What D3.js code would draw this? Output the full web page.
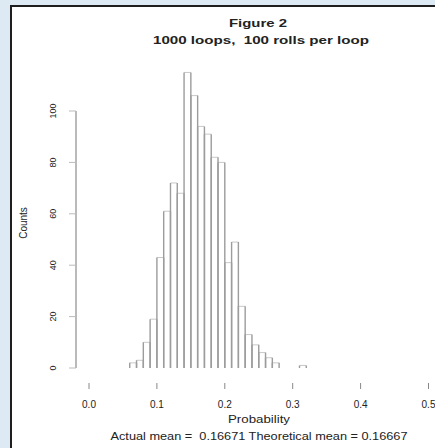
<!DOCTYPE html>
<html lang="en">
<head>
  <meta charset="UTF-8">
  <script src="https://d3js.org/d3.v7.min.js"></script>
  <title>Figure 2</title>
  <style>
    body { margin: 0; background: #dde9f3; }
    svg { display: block; font-family: "Liberation Sans", Arial, sans-serif; }
    text { white-space: pre; }
  </style>
</head>
<body>
  <script>
    // histogram bins: lower edge of each 0.01 bin and its count
    const binStart = [0.06, 0.07, 0.08, 0.09, 0.10, 0.11, 0.12, 0.13, 0.14, 0.15, 0.16, 0.17, 0.18,
                      0.19, 0.20, 0.21, 0.22, 0.23, 0.24, 0.25, 0.26, 0.27, 0.28, 0.29, 0.30, 0.31]
    const counts   = [2, 3, 10, 19, 43, 61, 72, 68, 115, 106, 94, 91, 82,
                      80, 41, 49, 24, 13, 9, 6, 4, 2, 0, 0, 0, 1]
    const binWidth = 0.01
    const xTicks = [0.0, 0.1, 0.2, 0.3, 0.4, 0.5]
    const yTicks = [0, 20, 40, 60, 80, 100]

    const titleLines = ["Figure 2", "1000 loops,  100 rolls per loop"]
    const xLabel = "Probability"
    const yLabel = "Counts"
    const subLabel = "Actual mean =  0.16671 Theoretical mean = 0.16667"

    const width = 435, height = 448

    const svg = d3.select("body")
        .append("svg")
        .attr("width", width)
        .attr("height", height)

    // white panel with dark frame (right/bottom run off the picture)
    svg.append("rect")
        .attr("x", 11).attr("y", 6)
        .attr("width", width).attr("height", height)
        .attr("fill", "#fff")
        .attr("stroke", "#1e1e1e")
        .attr("stroke-width", 2)

    const xScale = d3.scaleLinear()
        .domain([0, 0.5])
        .range([89, 428.5])

    const yScale = d3.scaleLinear()
        .domain([0, 100])
        .range([368, 111])

    const bins = binStart.map((b, i) => ({ x0: b, x1: b + binWidth, n: counts[i] }))
        .filter(d => d.n > 0)

    const bars = svg.append("g")

    // light tops
    bars.selectAll("line.top")
        .data(bins)
        .join("line")
        .attr("class", "top")
        .attr("x1", d => xScale(d.x0)).attr("x2", d => xScale(d.x1))
        .attr("y1", d => yScale(d.n)).attr("y2", d => yScale(d.n))
        .attr("stroke", "#c8c8c8")

    // bar sides
    bars.selectAll("path.side")
        .data(bins)
        .join("path")
        .attr("class", "side")
        .attr("d", d => `M${xScale(d.x0)},${yScale(0)}V${yScale(d.n)}M${xScale(d.x1)},${yScale(0)}V${yScale(d.n)}`)
        .attr("fill", "none")
        .attr("stroke", "#9c9c9c")
        .attr("stroke-width", 1.4)

    // y axis (R style, offset to the left)
    const yAxisX = 76
    const yAxis = svg.append("g")
    yAxis.append("line")
        .attr("x1", yAxisX).attr("x2", yAxisX)
        .attr("y1", yScale(0)).attr("y2", yScale(100))
        .attr("stroke", "#9c9c9c").attr("stroke-width", 1.4)
    yAxis.selectAll("line.tick")
        .data(yTicks)
        .join("line")
        .attr("class", "tick")
        .attr("x1", yAxisX - 7).attr("x2", yAxisX)
        .attr("y1", d => yScale(d)).attr("y2", d => yScale(d))
        .attr("stroke", "#bbb")
    yAxis.selectAll("text")
        .data(yTicks)
        .join("text")
        .attr("transform", d => `translate(56,${yScale(d)}) rotate(-90)`)
        .attr("text-anchor", "middle")
        .attr("font-size", 9)
        .attr("fill", "#222")
        .text(d => d)

    // x axis: ticks and labels only
    const xAxis = svg.append("g")
    xAxis.selectAll("line")
        .data(xTicks)
        .join("line")
        .attr("x1", d => xScale(d)).attr("x2", d => xScale(d))
        .attr("y1", 383).attr("y2", 389)
        .attr("stroke", "#888")
    xAxis.selectAll("text")
        .data(xTicks)
        .join("text")
        .attr("x", d => xScale(d))
        .attr("y", 408)
        .attr("text-anchor", "middle")
        .attr("font-size", 10)
        .attr("fill", "#222")
        .text(d => d3.format(".1f")(d))

    // titles
    svg.append("text")
        .attr("x", 258).attr("y", 27)
        .attr("text-anchor", "middle")
        .attr("font-size", 10).attr("font-weight", "bold")
        .attr("textLength", 58).attr("lengthAdjust", "spacingAndGlyphs")
        .attr("fill", "#222")
        .text(titleLines[0])
    svg.append("text")
        .attr("x", 261).attr("y", 44)
        .attr("text-anchor", "middle")
        .attr("font-size", 10).attr("font-weight", "bold")
        .attr("textLength", 216).attr("lengthAdjust", "spacingAndGlyphs")
        .attr("fill", "#222")
        .text(titleLines[1])

    svg.append("text")
        .attr("x", 259).attr("y", 423)
        .attr("text-anchor", "middle")
        .attr("font-size", 10)
        .attr("textLength", 62).attr("lengthAdjust", "spacingAndGlyphs")
        .attr("fill", "#222")
        .text(xLabel)
    svg.append("text")
        .attr("x", 259).attr("y", 440)
        .attr("text-anchor", "middle")
        .attr("font-size", 10)
        .attr("textLength", 297).attr("lengthAdjust", "spacingAndGlyphs")
        .attr("fill", "#222")
        .text(subLabel)

    svg.append("text")
        .attr("transform", "translate(27,223) rotate(-90)")
        .attr("text-anchor", "middle")
        .attr("font-size", 10)
        .attr("fill", "#222")
        .text(yLabel)
  </script>
</body>
</html>
